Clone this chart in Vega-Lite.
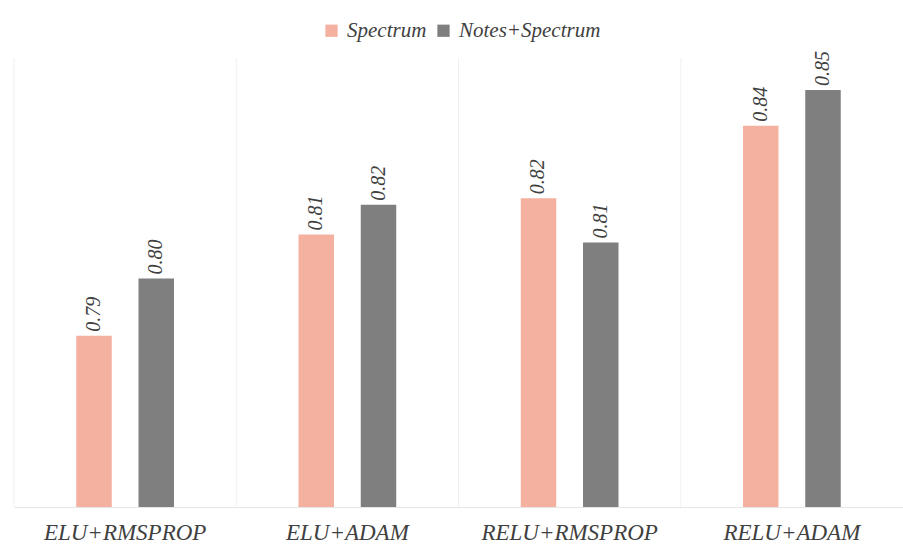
{
  "$schema": "https://vega.github.io/schema/vega-lite/v6.json",
  "autosize": {"type": "none"},
  "width": 889,
  "height": 449,
  "padding": {"left": 14, "top": 58, "right": 0, "bottom": 47},
  "background": "white",
  "config": {"view": {"stroke": null}},
  "datasets": {
    "bars": [
      {"cat": "ELU+RMSPROP", "series": "Spectrum", "value": 0.7877},
      {"cat": "ELU+RMSPROP", "series": "Notes+Spectrum", "value": 0.802},
      {"cat": "ELU+ADAM", "series": "Spectrum", "value": 0.813},
      {"cat": "ELU+ADAM", "series": "Notes+Spectrum", "value": 0.8204},
      {"cat": "RELU+RMSPROP", "series": "Spectrum", "value": 0.822},
      {"cat": "RELU+RMSPROP", "series": "Notes+Spectrum", "value": 0.811},
      {"cat": "RELU+ADAM", "series": "Spectrum", "value": 0.8401},
      {"cat": "RELU+ADAM", "series": "Notes+Spectrum", "value": 0.849}
    ],
    "seps": [
      {"cat": "ELU+RMSPROP"},
      {"cat": "ELU+ADAM"},
      {"cat": "RELU+RMSPROP"},
      {"cat": "RELU+ADAM"}
    ]
  },
  "layer": [
    {
      "data": {"name": "bars"},
      "mark": {"type": "bar", "clip": true},
      "encoding": {
        "x": {
          "field": "cat", "type": "nominal",
          "sort": ["ELU+RMSPROP", "ELU+ADAM", "RELU+RMSPROP", "RELU+ADAM"],
          "scale": {"paddingInner": 0, "paddingOuter": 0},
          "axis": {
            "title": null, "labelAngle": 0, "ticks": false, "grid": false, "bandPosition": 0.5,
            "domainColor": "#e6e6e6", "domainWidth": 1,
            "labelFont": "Liberation Serif", "labelFontStyle": "italic",
            "labelFontSize": 23, "labelColor": "#404040", "labelPadding": 14
          }
        },
        "xOffset": {
          "field": "series", "type": "nominal",
          "sort": ["Spectrum", "Notes+Spectrum"],
          "scale": {"paddingInner": 0.43, "paddingOuter": 1.21}
        },
        "y": {
          "field": "value", "type": "quantitative",
          "scale": {"domain": [0.745, 0.857], "zero": false, "nice": false},
          "axis": null
        },
        "color": {
          "field": "series", "type": "nominal",
          "sort": ["Spectrum", "Notes+Spectrum"],
          "scale": {"domain": ["Spectrum", "Notes+Spectrum"], "range": ["#f4b19f", "#7f7f7f"]},
          "legend": {
            "title": null, "orient": "none", "direction": "horizontal",
            "legendX": 307, "legendY": -38,
            "symbolType": "square", "symbolSize": 150, "symbolStrokeWidth": 0,
            "labelFont": "Liberation Serif", "labelFontStyle": "italic",
            "labelFontSize": 21, "labelColor": "#404040", "columnPadding": 6, "labelOffset": 5
          }
        }
      }
    },
    {
      "data": {"name": "seps"},
      "mark": {"type": "rule", "color": "#f0f0f0", "strokeWidth": 1},
      "encoding": {
        "x": {"field": "cat", "type": "nominal", "bandPosition": 0,
              "sort": ["ELU+RMSPROP", "ELU+ADAM", "RELU+RMSPROP", "RELU+ADAM"],
              "axis": {"bandPosition": 0.5}}
      }
    },
    {
      "data": {"name": "bars"},
      "mark": {"type": "text", "angle": 270, "align": "left", "baseline": "middle", "dx": 4,
               "font": "Liberation Serif", "fontStyle": "italic", "fontSize": 20, "color": "#404040"},
      "encoding": {
        "x": {"field": "cat", "type": "nominal", "sort": ["ELU+RMSPROP", "ELU+ADAM", "RELU+RMSPROP", "RELU+ADAM"]},
        "xOffset": {"field": "series", "type": "nominal", "sort": ["Spectrum", "Notes+Spectrum"]},
        "y": {"field": "value", "type": "quantitative"},
        "text": {"field": "value", "type": "quantitative", "format": ".2f"}
      }
    }
  ]
}
